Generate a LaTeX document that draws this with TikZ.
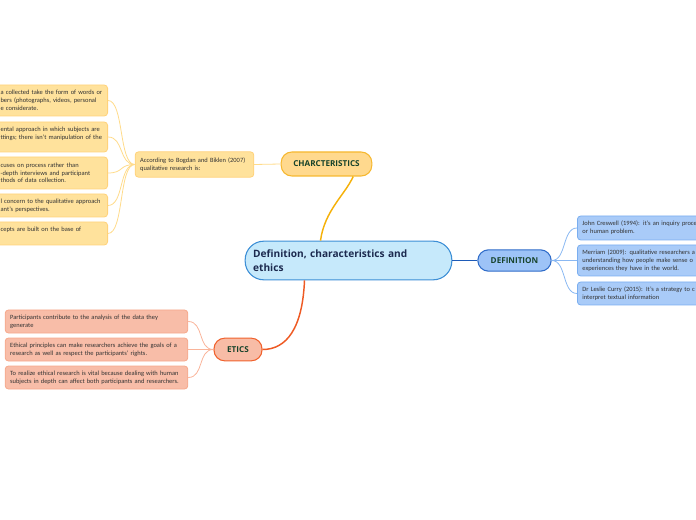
\documentclass[tikz,border=0pt]{standalone}
\usepackage{fontspec}
\setmainfont{Carlito}
\newfontfamily\headfont{Open Sans}

\definecolor{mainfill}{HTML}{C6E9FB}
\definecolor{maindraw}{HTML}{3D8FD6}
\definecolor{titletext}{HTML}{1C2A4F}
\definecolor{labelgreen}{HTML}{17432B}
\definecolor{leaftext}{HTML}{333333}
\definecolor{charfill}{HTML}{FFD98E}
\definecolor{chardraw}{HTML}{F6B830}
\definecolor{charline}{HTML}{F5B10A}
\definecolor{charleaf}{HTML}{FFE29C}
\definecolor{charleafdraw}{HTML}{FFD27A}
\definecolor{charleafline}{HTML}{FFDB8A}
\definecolor{deffill}{HTML}{9DC3F7}
\definecolor{defdraw}{HTML}{2F6CC9}
\definecolor{defline}{HTML}{1E5BB8}
\definecolor{defleaf}{HTML}{A9CBF8}
\definecolor{defleafdraw}{HTML}{7AAEF0}
\definecolor{defleafline}{HTML}{8AB8F2}
\definecolor{eticfill}{HTML}{F8BCA6}
\definecolor{eticdraw}{HTML}{F0622E}
\definecolor{eticline}{HTML}{EE5A24}
\definecolor{eticleaf}{HTML}{F8BDA8}
\definecolor{eticleafdraw}{HTML}{F6A98C}
\definecolor{eticleafline}{HTML}{F9B49A}

\tikzset{every picture/.style={line width=0.75pt}}

\begin{document}
\begin{tikzpicture}[x=0.75pt,y=0.75pt,yscale=-1,xscale=1,
  topic/.style={draw, line width=0.8pt, rounded corners=8pt, inner sep=0pt,
    font=\headfont\bfseries\fontsize{6.1}{7}\selectfont, text=labelgreen},
  leaf/.style={draw, line width=0.6pt, rounded corners=2.5pt, align=left,
    inner xsep=3.75pt, inner ysep=0pt, text=leaftext,
    font=\fontsize{4.85}{5.8}\selectfont},
  twig/.style={line width=0.6pt},
]
\useasboundingbox (0,0) rectangle (696,520);
\clip (0,0) rectangle (696,520);

%Central topic
\node (main) at (348.5,260.5) [draw=maindraw, fill=mainfill, line width=0.8pt,
  rounded corners=14pt, minimum width=155pt, minimum height=29pt,
  text width=143pt, inner xsep=6pt, align=left, text=titletext,
  font=\headfont\bfseries\fontsize{7.6}{10.5}\selectfont]
  {Definition, characteristics and\\ethics};

%Main topics
\node (char) at (326.5,164) [topic, fill=charfill, draw=chardraw,
  minimum width=68pt, minimum height=18pt] {CHARCTERISTICS};
\node (def) at (514.5,260.5) [topic, fill=deffill, draw=defdraw,
  minimum width=55pt, minimum height=16pt] {DEFINITION};
\node (etic) at (238,349.5) [topic, fill=eticfill, draw=eticdraw,
  minimum width=36pt, minimum height=17pt] {ETICS};

%Characteristics subtopics
\node (acc) at (194.5,164.5) [leaf, fill=charleaf, draw=charleafdraw,
  text width=81.5pt, minimum height=19pt]
  {According to Bogdan and Biklen (2007)\\qualitative research is:};
\node (c1) at (108,100.5) [leaf, anchor=east, fill=charleaf, draw=charleafdraw,
  text width=76.5pt, minimum height=23.25pt]
  {a collected take the form of words or\\bers (photographs, videos, personal\\e considerate.};
\node (c2) at (108,137) [leaf, anchor=east, fill=charleaf, draw=charleafdraw,
  text width=76.5pt, minimum height=22.5pt]
  {ental approach in which subjects are\\ttings; there isn't manipulation of the\\\phantom{x}};
\node (c3) at (108,173) [leaf, anchor=east, fill=charleaf, draw=charleafdraw,
  text width=76.5pt, minimum height=24pt]
  {cuses on process rather than\\-depth interviews and participant\\thods of data collection.};
\node (c4) at (108,205.5) [leaf, anchor=east, fill=charleaf, draw=charleafdraw,
  text width=76.5pt, minimum height=17.25pt]
  {l concern to the qualitative approach\\ant's perspectives.};
\node (c5) at (108,233.5) [leaf, anchor=east, fill=charleaf, draw=charleafdraw,
  text width=76.5pt, minimum height=17.25pt]
  {cepts are built on the base of\\\phantom{x}};

%Definition subtopics
\node (d1) at (577,228) [leaf, anchor=west, fill=defleaf, draw=defleafdraw,
  text width=120pt, minimum height=18pt]
  {John Creswell (1994): it's an inquiry proce\\or human problem.};
\node (d2) at (577,260.5) [leaf, anchor=west, fill=defleaf, draw=defleafdraw,
  text width=120pt, minimum height=23.25pt]
  {Merriam (2009): qualitative researchers a\\understanding how people make sense o\\experiences they have in the world.};
\node (d3) at (577,293.5) [leaf, anchor=west, fill=defleaf, draw=defleafdraw,
  text width=120pt, minimum height=17.25pt]
  {Dr Leslie Curry (2015): It's a strategy to c\\interpret textual information};

%Etics subtopics
\node (e1) at (96.5,321.5) [leaf, fill=eticleaf, draw=eticleafdraw,
  text width=129.5pt, minimum height=17.25pt]
  {Participants contribute to the analysis of the data they\\generate};
\node (e2) at (96.5,349.5) [leaf, fill=eticleaf, draw=eticleafdraw,
  text width=129.5pt, minimum height=17.25pt]
  {Ethical principles can make researchers achieve the goals of a\\research as well as respect the participants' rights.};
\node (e3) at (96.5,377.5) [leaf, fill=eticleaf, draw=eticleafdraw,
  text width=129.5pt, minimum height=17.25pt]
  {To realize ethical research is vital because dealing with human\\subjects in depth can affect both participants and researchers.};

%Main branches
\draw [charline, line width=1.1pt] ([xshift=-21pt]main.north) .. controls +(4,-30) and +(-8,18) .. ([xshift=20pt]char.south);
\draw [defline, line width=1.1pt] (main.east) -- (def.west);
\draw [eticline, line width=1.1pt] ([xshift=-33pt]main.south) .. controls +(-2,48) and +(24,0) .. (etic.east);

%Sub branches
\draw [twig, charleafline] (char.west) -- (acc.east);
\foreach \n in {c1,c2,c3,c4,c5}
  \draw [twig, charleafline] (acc.west) .. controls +(-16,0) and +(16,0) .. (\n.east);
\foreach \n in {d1,d2,d3}
  \draw [twig, defleafline] (def.east) .. controls +(15,0) and +(-15,0) .. (\n.west);
\foreach \n in {e1,e2,e3}
  \draw [twig, eticleafline] (etic.west) .. controls +(-16,0) and +(16,0) .. (\n.east);

\end{tikzpicture}
\end{document}
